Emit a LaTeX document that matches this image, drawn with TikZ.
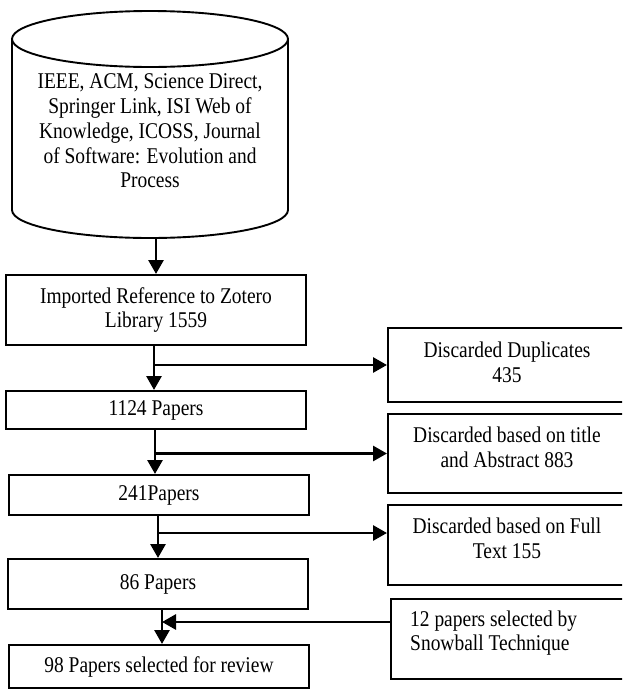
\documentclass[tikz,border=0pt]{standalone}
\usepackage{fontspec}
\setmainfont[FakeStretch=0.865]{Liberation Serif}
\usetikzlibrary{arrows.meta,calc}
\begin{document}
\begin{tikzpicture}[x=1pt,y=-1pt,
  tfont/.style={font=\fontsize{22.5}{24.8}\selectfont},
  box/.style={draw, line width=2pt, minimum width=300pt, inner sep=0pt, align=center, tfont},
  rbox/.style={draw, line width=2pt, inner sep=0pt},
  txt/.style={inner sep=0pt, align=center, tfont},
  shape line/.style={line width=1.9pt},
  arr/.style={line width=2.8pt, -{Triangle[length=14pt,width=15pt]}}]
\useasboundingbox (0,0) rectangle (622,689);
\clip (0,0) rectangle (622,689);
% database cylinder
\draw[shape line] (12,39) -- (12,210) arc[start angle=180, end angle=360, x radius=138pt, y radius=28pt] -- (288,39);
\draw[shape line] (150,39) ellipse [x radius=138pt, y radius=28pt];
\node[txt] (db) at (150,131) {IEEE, ACM, Science Direct,\\Springer Link, ISI Web of\\Knowledge, ICOSS, Journal\\of Software: Evolution and\\Process};
\coordinate (dbb) at (156,238);
% left column
\node[box, minimum height=70pt] (b1) at (156,310) {Imported Reference to Zotero\\Library 1559};
\node[box, minimum height=38pt] (b2) at (156,410) {1124 Papers};
\node[box, minimum height=40pt] (b3) at (159,495) {241Papers};
\node[box, minimum height=50pt] (b4) at (158,584) {86 Papers};
\node[box, minimum height=43pt] (b5) at (159,666.5) {98 Papers selected for review};
% right column
\node[rbox, minimum width=242pt, minimum height=74pt] (rb1) at (509,365) {};
\node[rbox, minimum width=242pt, minimum height=79pt] (rb2) at (509,453.5) {};
\node[rbox, minimum width=242pt, minimum height=80pt] (rb3) at (509,545) {};
\node[rbox, minimum width=239pt, minimum height=80pt] (rb4) at (510.5,639) {};
\node[txt] (t1) at (507,362) {Discarded Duplicates\\435};
\node[txt] (t2) at (507,447) {Discarded based on title\\and Abstract 883};
\node[txt] (t3) at (507,538) {Discarded based on Full\\Text 155};
\node[txt, align=left, anchor=west] (t4) at (410,633) {12 papers selected by\\Snowball Technique};
% connectors
\draw[arr] (dbb) -- (b1.north);
\coordinate (v1) at ([xshift=-2pt]b1.south);
\draw[arr] (v1) -- (v1 |- b2.north);
\draw[arr] (v1 |- rb1.west) -- (rb1.west);
\coordinate (v2) at ([xshift=-1pt]b2.south);
\draw[arr] (v2) -- (v2 |- b3.north);
\draw[arr] (v2 |- rb2.west) -- (rb2.west);
\coordinate (v3) at ([xshift=-1pt]b3.south);
\draw[arr] (v3) -- (v3 |- b4.north);
\coordinate (r3) at ([yshift=12pt]rb3.west);
\draw[arr] (v3 |- r3) -- (r3);
\coordinate (v4) at ([xshift=4pt]b4.south);
\draw[arr] (v4) -- (v4 |- b5.north);
\coordinate (r4) at ([yshift=17pt]rb4.west);
\draw[arr] (r4) -- (v4 |- r4);
\end{tikzpicture}
\end{document}
